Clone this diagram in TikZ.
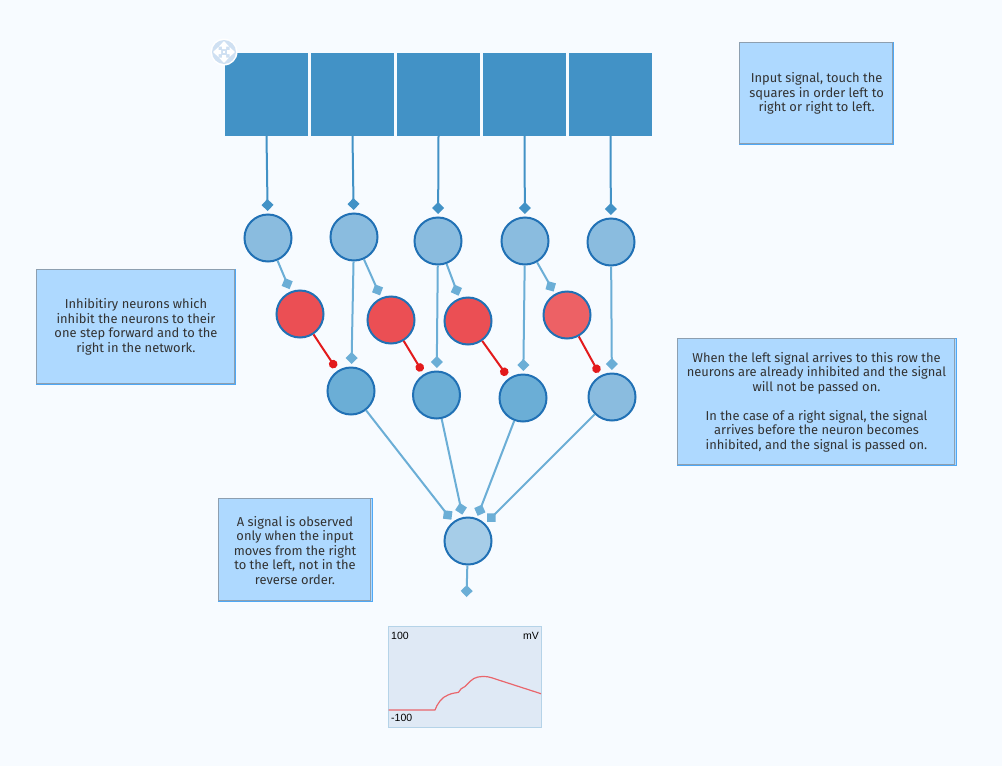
\documentclass[tikz,border=0pt]{standalone}
\usepackage{fontspec}
\setmainfont{Fira Sans}
\setsansfont{Liberation Sans}
\usetikzlibrary{arrows.meta}
\definecolor{pagebg}{HTML}{F7FBFF}
\definecolor{sigdark}{HTML}{4292C6}
\definecolor{sigmid}{HTML}{6BAED6}
\definecolor{ringblue}{HTML}{2171B5}
\definecolor{inputfill}{HTML}{8ABCDF}
\definecolor{outfill}{HTML}{A6CDE8}
\definecolor{inhibfill}{HTML}{EB4F54}
\definecolor{inhibline}{HTML}{E31A1C}
\definecolor{notefill}{HTML}{AED9FF}
\definecolor{noteline}{HTML}{8D9FB0}
\definecolor{noteedge}{HTML}{4FA8F5}
\definecolor{plotfill}{HTML}{DFE9F5}
\definecolor{plotline}{HTML}{B5D3E8}
\definecolor{iconfill}{HTML}{CFE0F2}

\begin{document}
\begin{tikzpicture}[x=1pt, y=-1pt,
    sensor/.style={rectangle, fill=sigdark, minimum size=83pt, inner sep=0pt},
    neuron/.style={circle, draw=ringblue, line width=2pt, minimum size=47pt, inner sep=0pt},
    excite/.style={line width=2pt, -{Diamond[length=12pt, width=12pt]}, shorten >=2.5pt},
    inhibit/.style={inhibline, line width=2pt, -{Circle[length=8.5pt]}, shorten >=3.5pt},
    note/.style={rectangle, draw=noteedge, line width=1pt, outer sep=0pt, fill=notefill, inner sep=0pt, align=center, text=black!80, font=\fontsize{12.9}{14.5}\selectfont,
        execute at begin node={\rule{0pt}{14pt}}},
    plotlabel/.style={inner sep=0pt, font=\sffamily\fontsize{10.5}{12}\selectfont}]
    \useasboundingbox (0,0) rectangle (1002,766);
    \fill[pagebg] (0,0) rectangle (1002,766);

    % input squares
    \node[sensor] (s1) at (266.5,94.5) {};
    \node[sensor] (s2) at (352.5,94.5) {};
    \node[sensor] (s3) at (438.5,94.5) {};
    \node[sensor] (s4) at (524.5,94.5) {};
    \node[sensor] (s5) at (610.5,94.5) {};

    % move icon
    \fill[white] (224,52) circle (13.5);
    \fill[iconfill] (224,52) circle (12);
    \fill[white] (222.7,50.7) rectangle (225.3,53.3);
    \foreach \ang in {0,90,180,270}{
        \fill[white, rotate around={\ang:(224,52)}] (227,50) -- (229.5,50) -- (229.5,47) -- (235,52) -- (229.5,57) -- (229.5,54) -- (227,54) -- cycle;
    }

    % neurons
    \node[neuron, fill=inputfill] (n1) at (268,238) {};
    \node[neuron, fill=inputfill] (n2) at (354,237) {};
    \node[neuron, fill=inputfill] (n3) at (438,241) {};
    \node[neuron, fill=inputfill] (n4) at (525,241) {};
    \node[neuron, fill=inputfill] (n5) at (611,242) {};

    \node[neuron, fill=inhibfill] (r1) at (300,314) {};
    \node[neuron, fill=inhibfill] (r2) at (391,320) {};
    \node[neuron, fill=inhibfill] (r3) at (468,321) {};
    \node[neuron, fill=inhibfill!90!white] (r4) at (567,315) {};

    \node[neuron, fill=sigmid] (m1) at (351,391) {};
    \node[neuron, fill=sigmid] (m2) at (436.5,395) {};
    \node[neuron, fill=sigmid] (m3) at (523,398) {};
    \node[neuron, fill=inputfill] (m4) at (612,397) {};

    \node[neuron, fill=outfill] (o1) at (468,541) {};
    \coordinate (end1) at (466.5,597);

    % connections
    \foreach \i in {1,...,5}{
        \draw[excite, sigdark] (s\i.south) -- (n\i);
    }
    \draw[excite, sigmid] (n1)--(r1);
    \draw[excite, sigmid] (n2)--(r2);
    \draw[excite, sigmid] (n3)--(r3);
    \draw[excite, sigmid] (n4)--(r4);
    \draw[excite, sigmid] (n2)--(m1);
    \draw[excite, sigmid] (n3)--(m2);
    \draw[excite, sigmid] (n4)--(m3);
    \draw[excite, sigmid] (n5)--(m4);
    \draw[inhibit] (r1)--(m1);
    \draw[inhibit] (r2)--(m2);
    \draw[inhibit] (r3)--(m3);
    \draw[inhibit] (r4)--(m4);
    \draw[excite, sigmid] (m1)--(o1);
    \draw[excite, sigmid] (m2)--(o1);
    \draw[excite, sigmid] (m3)--(o1);
    \draw[excite, sigmid] (m4)--(o1);
    \draw[excite, sigmid, shorten >=0pt] (o1)--(end1);

    % notes
    \node[note, execute at begin node={\rule{0pt}{16pt}}, minimum width=154.2pt, minimum height=102pt] (n_input) at (816.6,93.5) {Input signal, touch the\\squares in order left to\\right or right to left.};
    \node[note, execute at begin node={\rule{0pt}{16pt}}, minimum width=199pt, minimum height=115pt] (n_inhib) at (136,327) {Inhibitiry neurons which\\inhibit the neurons to their\\one step forward and to the\\right in the network.};
    \node[note, minimum width=279pt, minimum height=126.5pt] (n_row) at (816.5,402.2) {When the left signal arrives to this row the\\neurons are already inhibited and the signal\\will not be passed on.\\[14.5pt]In the case of a right signal, the signal\\arrives before the neuron becomes\\inhibited, and the signal is passed on.};
    \node[note, minimum width=154pt, minimum height=102.5pt] (n_obs) at (295,550.2) {A signal is observed\\only when the input\\moves from the right\\to the left, not in the\\reverse order.};
    \foreach \nt in {n_input,n_inhib,n_row,n_obs}{
        \draw[noteline, line width=1pt] (\nt.north west) rectangle ([shift={(-1.1,-1.1)}]\nt.south east);
    }

    % voltage plot
    \node[rectangle, draw=plotline, fill=plotfill, minimum width=153.5pt, minimum height=101pt, inner sep=0pt] (plot) at (464.8,676.5) {};
    \node[plotlabel, anchor=west] (p_top) at (391,636) {100};
    \node[plotlabel, anchor=east] (p_unit) at (539,636) {mV};
    \node[plotlabel, anchor=west] (p_bot) at (391,718) {-100};
    \draw[inhibfill!85!plotfill, line width=1.2pt, line join=round] (388.5,710) -- (435,710) .. controls (437,704) and (442,697) .. (448,695) .. controls (452,693) and (456,693) .. (458.5,692.3) .. controls (460,689) and (462,688) .. (465,686.5) .. controls (469,683) and (472,678) .. (478,677) .. controls (485,675.5) and (490,677) .. (497,679.5) -- (541,693.7);
\end{tikzpicture}
\end{document}
